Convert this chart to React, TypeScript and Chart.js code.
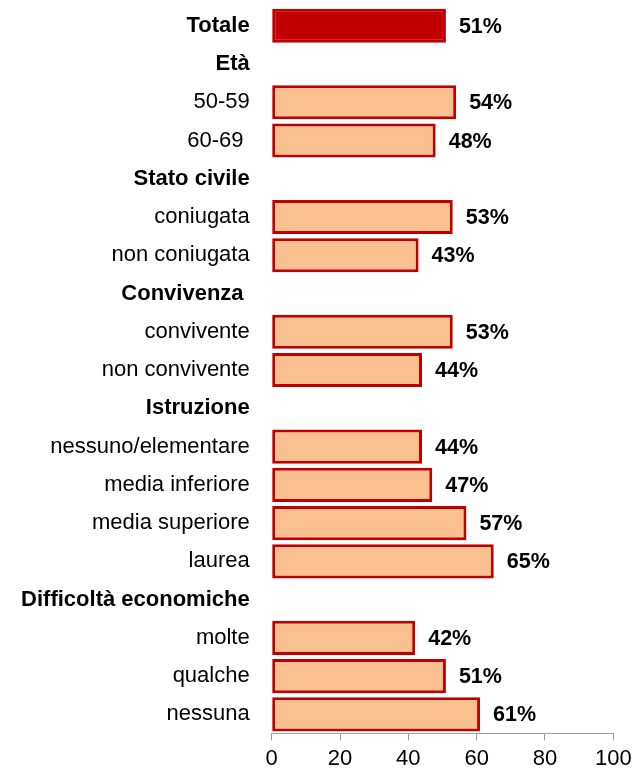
import React, { useEffect, useRef } from "react";
import { Chart, registerables } from "chart.js";

Chart.register(...registerables);

// ---- data ----
const categories: string[] = [
  "Totale",
  "Età",
  "50-59",
  "60-69 ",
  "Stato civile",
  "coniugata",
  "non coniugata",
  "Convivenza ",
  "convivente",
  "non convivente",
  "Istruzione",
  "nessuno/elementare",
  "media inferiore",
  "media superiore",
  "laurea",
  "Difficoltà economiche",
  "molte",
  "qualche",
  "nessuna",
];
const values: (number | null)[] = [
  51, null, 54, 48, null, 53, 43, null, 53, 44, null, 44, 47, 57, 65, null, 42, 51, 61,
];
const headerLabels: string[] = [
  "Totale",
  "Età",
  "Stato civile",
  "Convivenza",
  "Istruzione",
  "Difficoltà economiche",
];
const highlightedLabels: string[] = ["Totale"];
const xTickValues: number[] = [0, 20, 40, 60, 80, 100];

const FONT = "'Liberation Sans', Arial, Helvetica, sans-serif";
const DARK_RED = "#C00000";
const PEACH = "#FAC090";
const AXIS_GRAY = "#A0A0A0";

const isHeader = (i: number) => headerLabels.includes(categories[i].trim());
const isHighlighted = (i: number) => highlightedLabels.includes(categories[i].trim());

const valueLabelPlugin = {
  id: "valueLabels",
  afterDatasetsDraw(chart: any) {
    const ctx = chart.ctx;
    const meta = chart.getDatasetMeta(0);
    ctx.save();
    ctx.font = `bold 21.5px ${FONT}`;
    ctx.fillStyle = "#000000";
    ctx.textAlign = "left";
    ctx.textBaseline = "middle";
    meta.data.forEach((el: any, i: number) => {
      const v = values[i];
      if (v === null || v === undefined) return;
      ctx.fillText(`${v}%`, el.x + 13, el.y + 1);
    });
    ctx.restore();
  },
};

export default function App() {
  const canvasRef = useRef<HTMLCanvasElement | null>(null);

  useEffect(() => {
    document.body.style.margin = "0";
    const canvas = canvasRef.current;
    if (!canvas) return;
    const chart = new Chart(canvas, {
      type: "bar",
      data: {
        labels: categories,
        datasets: [
          {
            data: values as any,
            backgroundColor: (c: any) => (isHighlighted(c.dataIndex) ? DARK_RED : PEACH),
            borderColor: DARK_RED,
            borderWidth: 3,
            borderSkipped: false,
            barPercentage: 0.89,
            categoryPercentage: 1,
          },
        ],
      },
      options: {
        indexAxis: "y",
        animation: false,
        responsive: true,
        maintainAspectRatio: false,
        layout: { padding: { top: 6.7, right: 28.7, left: 0, bottom: 0 } },
        plugins: {
          legend: { display: false },
          tooltip: { enabled: false },
        },
        scales: {
          x: {
            min: 0,
            max: 100,
            afterBuildTicks: (scale: any) => {
              scale.ticks = xTickValues.map((v) => ({ value: v }));
            },
            afterFit: (scale: any) => {
              scale.height = 35.5;
            },
            grid: {
              drawOnChartArea: false,
              drawTicks: true,
              tickLength: 7,
              color: AXIS_GRAY,
              lineWidth: 1,
            },
            border: { display: true, color: AXIS_GRAY, width: 1 },
            ticks: {
              padding: 5.5,
              color: "#000000",
              font: { family: FONT, size: 22 },
              maxRotation: 0,
              autoSkip: false,
            },
          },
          y: {
            afterFit: (scale: any) => {
              scale.width = 271.7;
              scale.paddingTop = 0;
              scale.paddingBottom = 0;
            },
            grid: { display: false, drawTicks: false, tickLength: 0 },
            border: { display: false },
            ticks: {
              autoSkip: false,
              padding: 22,
              color: "#000000",
              font: (c: any) => ({
                family: FONT,
                size: 22,
                weight: isHeader(c.index) ? "bold" : "normal",
              }),
            },
          },
        },
      },
      plugins: [valueLabelPlugin],
    });
    return () => chart.destroy();
  }, []);

  return (
    <div style={{ position: "relative", width: 642, height: 769 }}>
      <canvas ref={canvasRef} />
    </div>
  );
}
